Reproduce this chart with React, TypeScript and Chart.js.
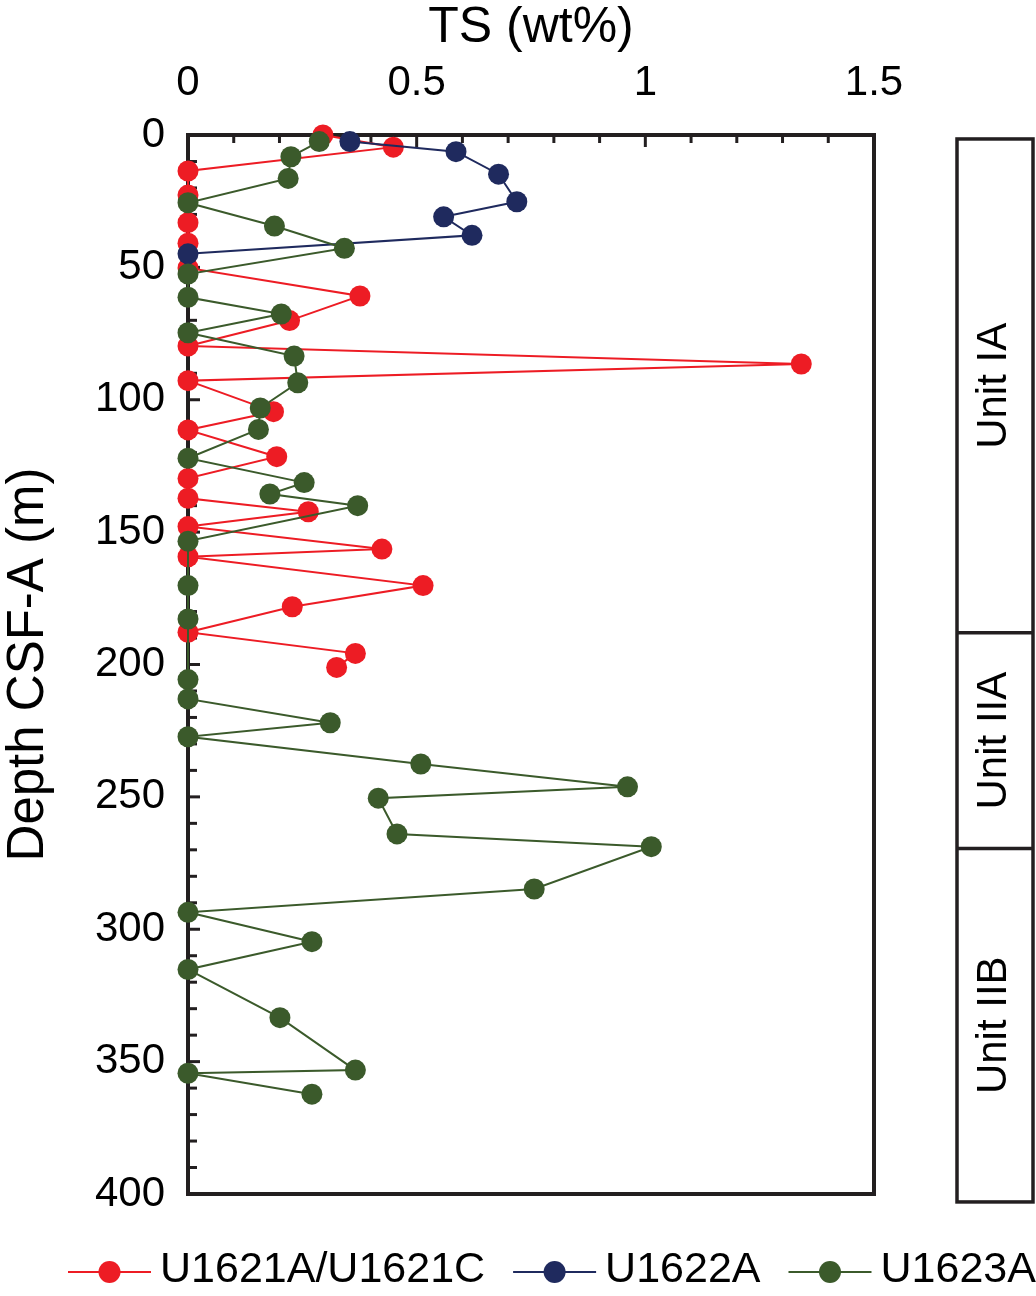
import React, { useEffect, useRef } from 'react';
import { Chart, registerables } from 'chart.js';

Chart.register(...registerables);

const FONT = '"Liberation Sans", Arial, Helvetica, sans-serif';
const INK = '#231F20';

// ---- data (TS wt% vs depth CSF-A m) ----
const u1621Depth = [0, 4.6, 13.6, 22.7, 33.1, 40.9, 50.2, 60.8, 70.1, 79.7, 86.5, 92.8, 104.5, 111.4, 121.5, 129.7, 137.2, 142.3, 147.9, 156.4, 159.3, 170.2, 178.2, 187.8, 195.8, 201.1];
const u1621TS = [0.295, 0.449, 0, 0, 0, 0, 0, 0.376, 0.222, 0, 1.341, 0, 0.187, 0, 0.194, 0, 0, 0.263, 0, 0.424, 0, 0.514, 0.228, 0, 0.366, 0.325];

const u1622Depth = [2.5, 6.3, 14.8, 25.2, 30.9, 37.9, 44.9];
const u1622TS = [0.354, 0.586, 0.679, 0.719, 0.559, 0.621, 0];

const u1623Depth = [2.5, 8.2, 16.4, 25.6, 34.4, 42.8, 52.5, 61.3, 67.6, 74.7, 83.5, 93.6, 103.1, 111.2, 122.1, 131.3, 135.6, 140.0, 153.4, 170.2, 182.8, 205.7, 213.0, 222.0, 227.3, 237.6, 246.2, 250.5, 264.0, 268.8, 284.8, 293.6, 304.7, 315.2, 333.4, 353.2, 354.4, 362.3];
const u1623TS = [0.287, 0.225, 0.219, 0, 0.189, 0.342, 0, 0, 0.204, 0, 0.232, 0.240, 0.158, 0.154, 0, 0.254, 0.179, 0.371, 0, 0, 0, 0, 0, 0.311, 0, 0.509, 0.961, 0.416, 0.457, 1.013, 0.757, 0, 0.271, 0, 0.201, 0.366, 0, 0.271];

const seriesNames = ['U1621A/U1621C', 'U1622A', 'U1623A'];
const seriesColors = ['#ED1C24', '#1F2A5E', '#3B5A2B'];
const seriesDepths = [u1621Depth, u1622Depth, u1623Depth];
const seriesTS = [u1621TS, u1622TS, u1623TS];
const seriesOrder = [3, 2, 1];

const xTickValues = [0, 0.5, 1, 1.5];
const xTickLabels = ['0', '0.5', '1', '1.5'];
const yTickValues = [0, 50, 100, 150, 200, 250, 300, 350, 400];
const yTickLabels = ['0', '50', '100', '150', '200', '250', '300', '350', '400'];
const xMinorStep = 0.1;
const yMinorStep = 10;

const unitNames = ['Unit IA', 'Unit IIA', 'Unit IIB'];
const unitBounds = [1.5, 188, 269.5, 403];

const frameTicksPlugin = {
  id: 'frameTicks',
  beforeDatasetsDraw(chart: any) {
    const { ctx, chartArea, scales } = chart;
    const { left, right, top, bottom } = chartArea;
    const x = scales.x;
    const y = scales.y;
    ctx.save();
    ctx.strokeStyle = INK;
    ctx.lineWidth = 3;
    const nx = Math.round(1.5 / xMinorStep);
    for (let i = 0; i <= nx; i++) {
      const px = x.getPixelForValue(i * xMinorStep);
      const len = i % 5 === 0 ? 12 : 8;
      ctx.beginPath();
      ctx.moveTo(px, top);
      ctx.lineTo(px, top + len);
      ctx.stroke();
    }
    const ny = Math.round(400 / yMinorStep);
    for (let i = 0; i <= ny; i++) {
      const py = y.getPixelForValue(i * yMinorStep);
      const len = i % 5 === 0 ? 12 : 9;
      ctx.beginPath();
      ctx.moveTo(left, py);
      ctx.lineTo(left + len, py);
      ctx.stroke();
    }
    ctx.lineWidth = 4;
    ctx.strokeRect(left, top, right - left, bottom - top);
    ctx.restore();
  },
};

const unitsPlugin = {
  id: 'unitsColumn',
  afterDraw(chart: any) {
    const { ctx, chartArea, scales } = chart;
    const y = scales.y;
    const bx0 = chartArea.right + 83;
    const bx1 = chartArea.right + 159;
    const ys = unitBounds.map((d) => y.getPixelForValue(d));
    ctx.save();
    ctx.strokeStyle = INK;
    ctx.lineWidth = 3.5;
    ctx.strokeRect(bx0, ys[0], bx1 - bx0, ys[ys.length - 1] - ys[0]);
    for (let i = 1; i < ys.length - 1; i++) {
      ctx.beginPath();
      ctx.moveTo(bx0, ys[i]);
      ctx.lineTo(bx1, ys[i]);
      ctx.stroke();
    }
    ctx.fillStyle = '#000';
    ctx.font = `42px ${FONT}`;
    ctx.textAlign = 'center';
    ctx.textBaseline = 'middle';
    unitNames.forEach((name, i) => {
      const cy = (ys[i] + ys[i + 1]) / 2;
      const cx = (bx0 + bx1) / 2 - 1;
      ctx.save();
      ctx.translate(cx, cy);
      ctx.rotate(-Math.PI / 2);
      ctx.fillText(name, 0, 0);
      ctx.restore();
    });
    ctx.restore();
  },
};

const legendPlugin = {
  id: 'lineDotLegend',
  afterDraw(chart: any) {
    const { ctx, chartArea } = chart;
    ctx.save();
    ctx.font = `43px ${FONT}`;
    let x = 68;
    const cy = chartArea.bottom + 78;
    const baseline = cy + 10;
    chart.data.datasets.forEach((ds: any) => {
      ctx.strokeStyle = ds.borderColor;
      ctx.lineWidth = 2;
      ctx.beginPath();
      ctx.moveTo(x, cy);
      ctx.lineTo(x + 83, cy);
      ctx.stroke();
      ctx.fillStyle = ds.backgroundColor;
      ctx.beginPath();
      ctx.arc(x + 41.5, cy, 11, 0, Math.PI * 2);
      ctx.fill();
      ctx.fillStyle = '#000';
      ctx.textAlign = 'left';
      ctx.textBaseline = 'alphabetic';
      ctx.fillText(ds.label, x + 92, baseline);
      x += 92 + ctx.measureText(ds.label).width + 28;
    });
    ctx.restore();
  },
};

function TSChart() {
  const canvasRef = useRef<HTMLCanvasElement | null>(null);

  useEffect(() => {
    if (!canvasRef.current) return;
    const datasets = seriesNames.map((name, i) => ({
      label: name,
      data: seriesDepths[i].map((d, j) => ({ x: seriesTS[i][j], y: d })),
      showLine: true,
      borderColor: seriesColors[i],
      backgroundColor: seriesColors[i],
      borderWidth: 2,
      pointRadius: 10.5,
      pointHoverRadius: 10.5,
      pointBorderWidth: 0,
      pointBackgroundColor: seriesColors[i],
      clip: false as any,
      order: seriesOrder[i],
    }));

    const chart = new Chart(canvasRef.current, {
      type: 'scatter',
      data: { datasets },
      options: {
        animation: false,
        responsive: true,
        maintainAspectRatio: false,
        events: [],
        layout: { padding: { left: 0, top: 0, right: 162, bottom: 102 } },
        plugins: {
          legend: { display: false },
          tooltip: { enabled: false },
        },
        scales: {
          x: {
            type: 'linear',
            position: 'top',
            min: 0,
            max: 1.5,
            grid: { display: false, drawTicks: false },
            border: { display: false },
            afterBuildTicks: (scale: any) => {
              scale.ticks = xTickValues.map((v) => ({ value: v }));
            },
            afterFit: (scale: any) => {
              scale.height = 135;
            },
            ticks: {
              autoSkip: false,
              maxRotation: 0,
              padding: 26,
              color: '#000',
              font: { family: FONT, size: 42 },
              callback: (_v: any, i: number) => xTickLabels[i],
            },
            title: {
              display: true,
              text: 'TS (wt%)',
              color: '#000',
              font: { family: FONT, size: 50 },
              padding: { top: -2, bottom: 0 },
            },
          },
          y: {
            type: 'linear',
            position: 'left',
            reverse: true,
            min: 0,
            max: 400,
            grid: { display: false, drawTicks: false },
            border: { display: false },
            afterBuildTicks: (scale: any) => {
              scale.ticks = yTickValues.map((v) => ({ value: v }));
            },
            afterFit: (scale: any) => {
              scale.width = 188;
            },
            ticks: {
              autoSkip: false,
              padding: 23,
              color: '#000',
              font: { family: FONT, size: 42 },
              callback: (_v: any, i: number) => yTickLabels[i],
            },
            title: {
              display: true,
              text: 'Depth CSF-A (m)',
              color: '#000',
              font: { family: FONT, size: 51 },
              padding: { top: -2, bottom: 0 },
            },
          },
        },
      },
      plugins: [frameTicksPlugin, unitsPlugin, legendPlugin],
    } as any);

    return () => {
      chart.destroy();
    };
  }, []);

  return (
    <div
      style={{
        position: 'fixed',
        left: 0,
        top: 0,
        width: 1036,
        height: 1296,
        background: '#fff',
      }}
    >
      <canvas ref={canvasRef} />
    </div>
  );
}

export default function App() {
  return <TSChart />;
}
